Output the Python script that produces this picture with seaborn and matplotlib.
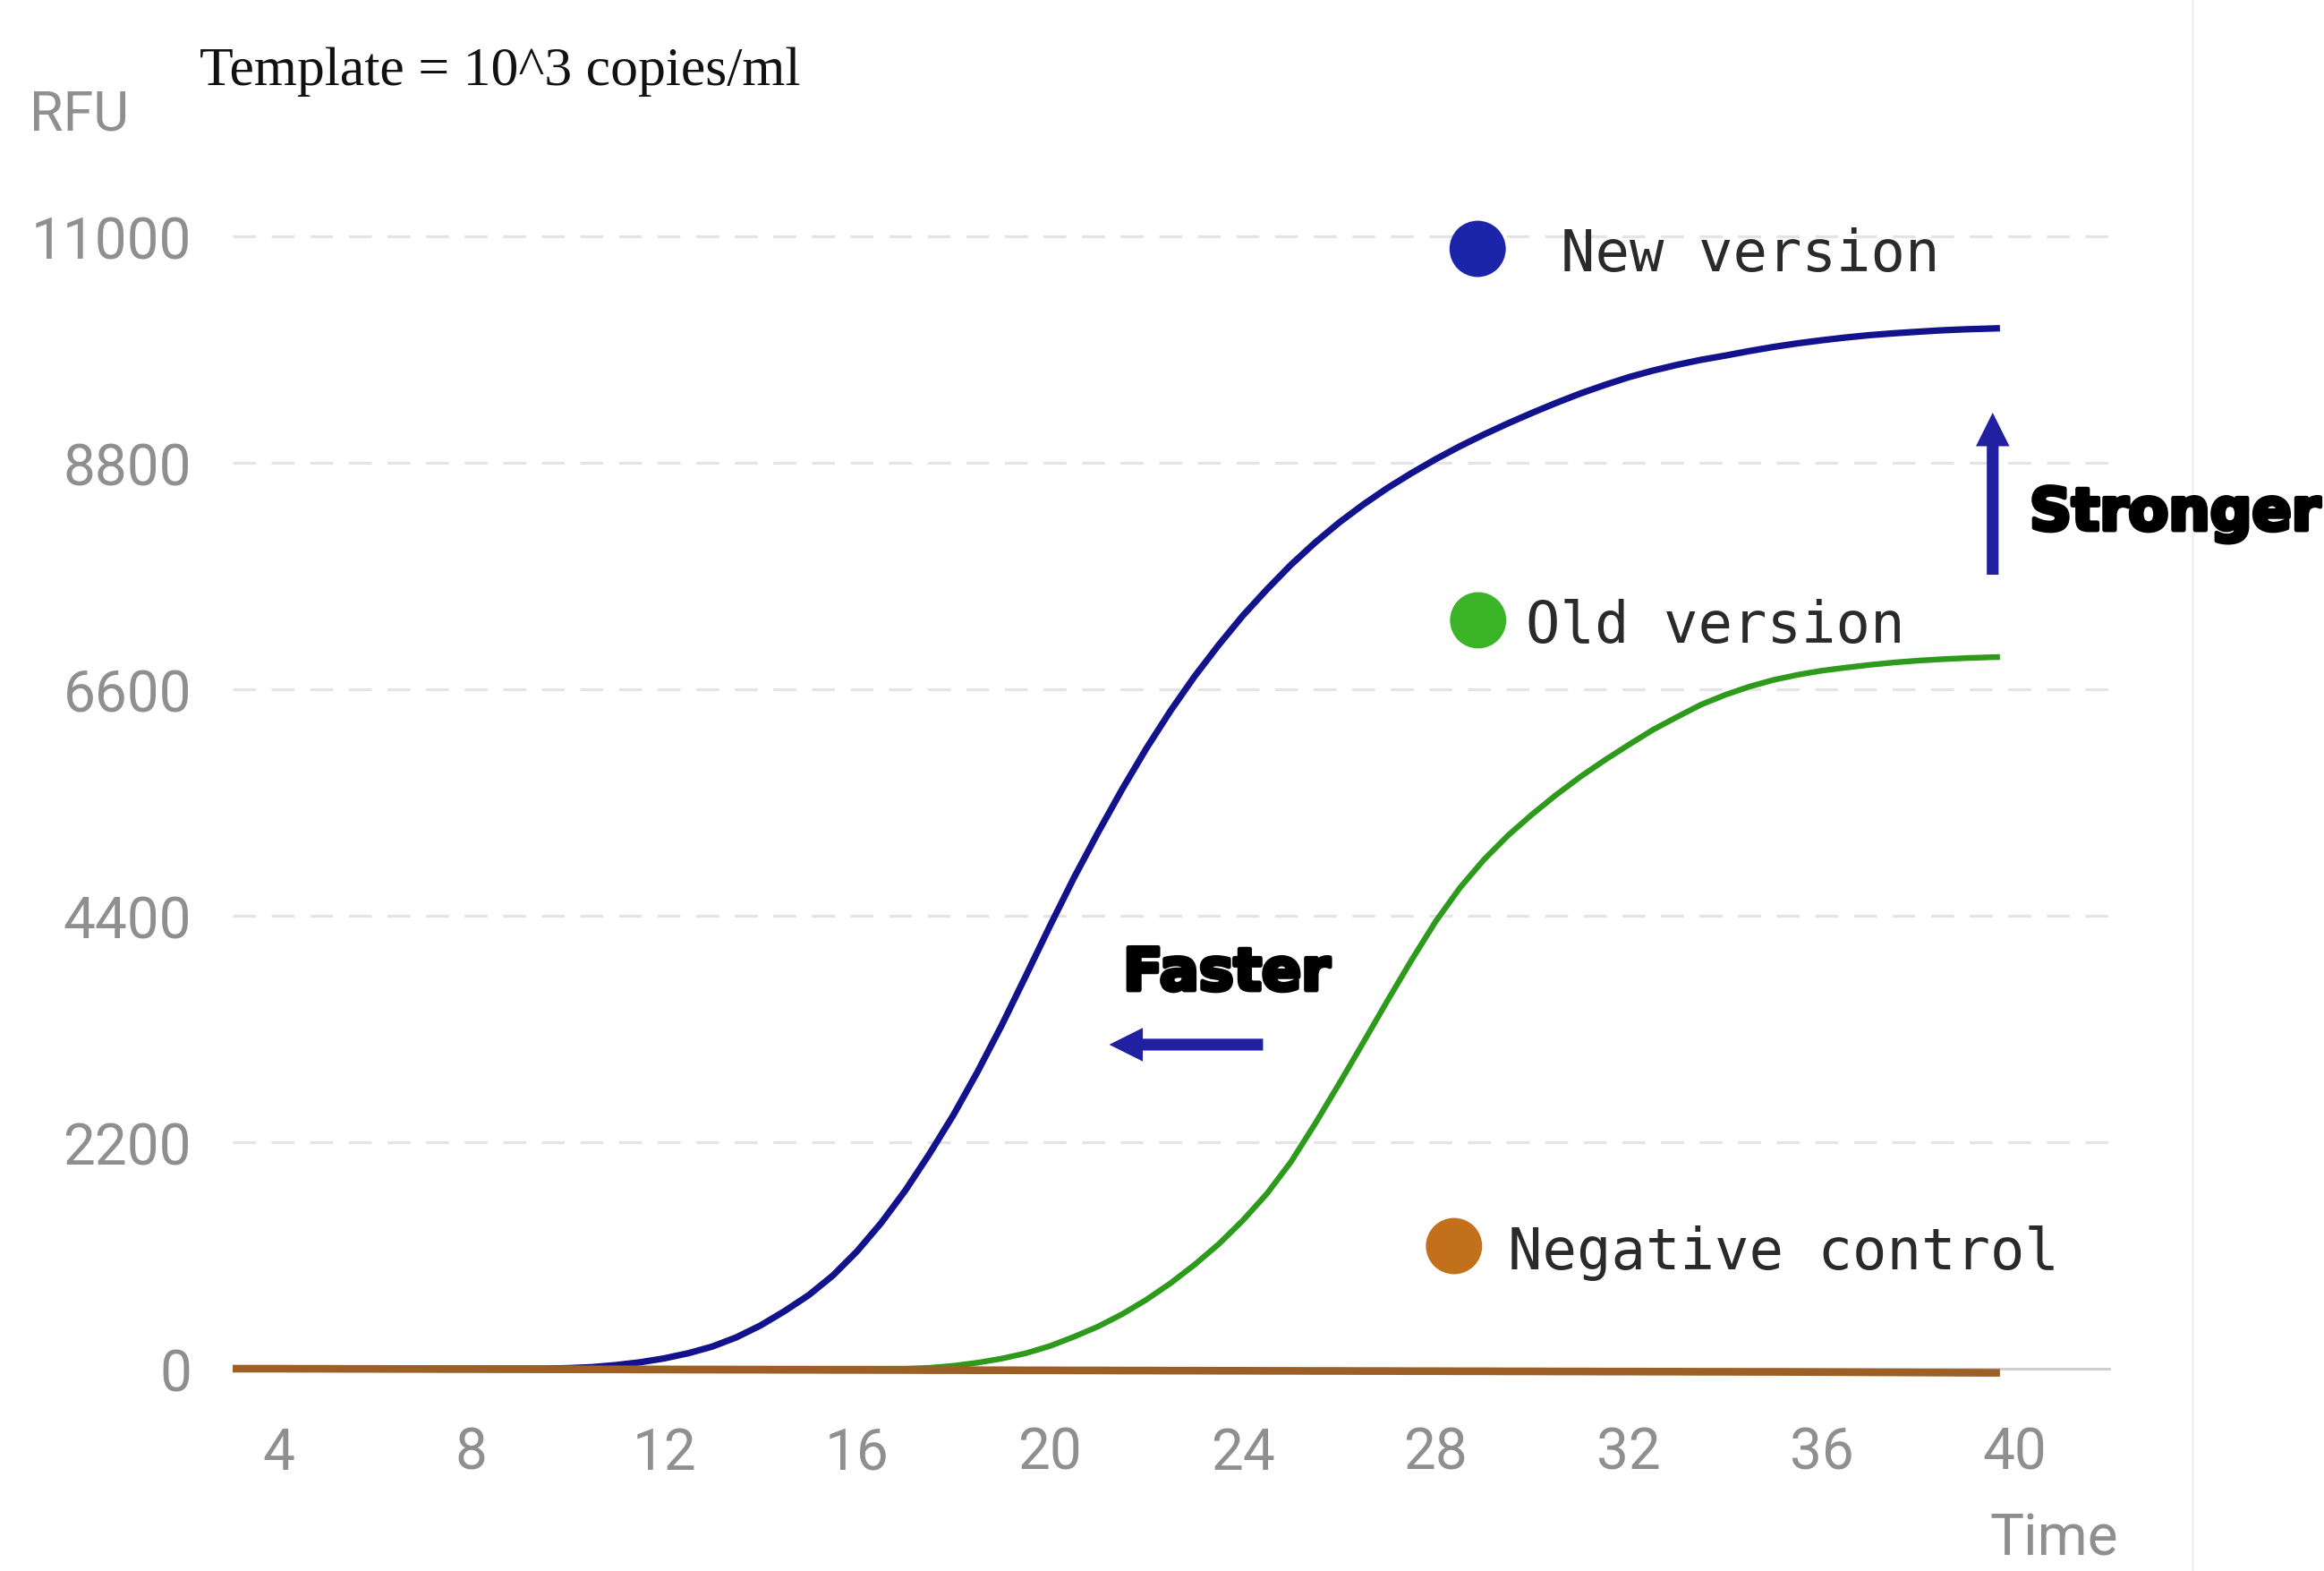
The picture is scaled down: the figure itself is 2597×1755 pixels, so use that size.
import numpy as np
import pandas as pd
import matplotlib
matplotlib.use("Agg")
import matplotlib.pyplot as plt
import matplotlib.patheffects as pe
import seaborn as sns

# ---------------- data ----------------
time = [3, 3.5, 4, 4.5, 5, 5.5, 6, 6.5, 7, 7.5, 8, 8.5, 9, 9.5,
        10, 10.5, 11, 11.5, 12, 12.5, 13, 13.5, 14, 14.5, 15, 15.5, 16, 16.5,
        17, 17.5, 18, 18.5, 19, 19.5, 20, 20.5, 21, 21.5, 22, 22.5, 23, 23.5,
        24, 24.5, 25, 25.5, 26, 26.5, 27, 27.5, 28, 28.5, 29, 29.5, 30, 30.5,
        31, 31.5, 32, 32.5, 33, 33.5, 34, 34.5, 35, 35.5, 36, 36.5, 37, 37.5,
        38, 38.5, 39, 39.5, 39.7]
new_version = [0, 0, 0, 0, 0, 0, 0, 0, 0, 0, 0, 0, 0, 0,
               5, 15, 35, 62, 100, 150, 215, 305, 420, 560, 715, 905, 1140, 1415,
               1730, 2085, 2465, 2885, 3335, 3815, 4300, 4770, 5210, 5630, 6025,
               6390, 6725, 7030, 7315, 7570, 7810, 8025, 8220, 8395, 8555, 8700,
               8835, 8960, 9075, 9183, 9285, 9382, 9473, 9555, 9631, 9695, 9751,
               9800, 9841, 9885, 9925, 9960, 9990, 10017, 10040, 10058, 10073,
               10087, 10097, 10104, 10107]
old_version = [0, 0, 0, 0, 0, 0, 0, 0, 0, 0, 0, 0, 0, 0,
               0, 0, 0, 0, 0, 0, 0, 0, 0, 0, 0, 0, 0, 0, 0,
               8, 28, 58, 98, 150, 220, 310, 410, 530, 670, 830, 1010, 1210,
               1440, 1700, 2010, 2380, 2770, 3170, 3575, 3970, 4345, 4670, 4945,
               5180, 5385, 5575, 5750, 5910, 6060, 6205, 6330, 6450, 6545, 6625,
               6690, 6740, 6780, 6810, 6837, 6860, 6878, 6892, 6903, 6911, 6913]
negative_control = [0, 0, 0, -1, -1, -2, -2, -3, -3, -4, -4, -5, -5, -6, -6, -7,
                    -7, -8, -8, -9, -9, -10, -10, -11, -11, -12, -12, -13, -13,
                    -14, -14, -15, -15, -16, -16, -17, -17, -18, -18, -19, -19,
                    -20, -20, -21, -21, -22, -22, -23, -23, -24, -24, -25, -25,
                    -26, -26, -27, -27, -28, -28, -29, -29, -30, -30, -31, -31,
                    -32, -33, -34, -35, -36, -37, -38, -39, -40, -40]

x_ticks = [4, 8, 12, 16, 20, 24, 28, 32, 36, 40]
y_ticks = [0, 2200, 4400, 6600, 8800, 11000]
y_tick_labels = ["0", "2200", "4400", "6600", "8800", "11000"]

series_names = ["New version", "Old version", "Negative control"]
line_colors = ["#12128c", "#2e9a1c", "#9c5f26"]
dot_colors = ["#1c24aa", "#3bb527", "#c2701c"]

# legend-like dots and labels placed inside the plot (data coords)
dot_x = [28.87, 28.88, 28.38]
dot_y = [10878, 7270, 1191]
label_x = [30.59, 29.87, 29.50]
label_y = [10670, 7061, 974]

# annotations
faster_arrow = dict(tail=(24.42, 3148), head=(21.23, 3148))
stronger_arrow = dict(tail=(39.55, 7713), head=(39.55, 9287))

# ---------------- figure ----------------
sns.set_theme(style="white")
plt.rcParams["font.family"] = ["Roboto", "DejaVu Sans"]

W, H = 2597, 1756
fig = plt.figure(figsize=(W / 100, H / 100), dpi=100)
fig.patch.set_facecolor("white")
ax = fig.add_axes([0.10004, 0.10906, 0.80824, 0.77278])
ax.set_facecolor("white")

n = len(time)
df = pd.DataFrame({
    "time": time * 3,
    "rfu": new_version + old_version + negative_control,
    "series": [series_names[0]] * n + [series_names[1]] * n + [series_names[2]] * n,
})

# grid (dashed) and baseline
for yv in y_ticks[1:]:
    ax.axhline(yv, color="#e4e4e4", lw=2.3, ls=(0, (8, 5.5)), zorder=0)
ax.axhline(0, color="#cfcfcf", lw=2.2, zorder=0.5)

widths = [5.2, 4.6, 6.2]
for name, col, lw, z in zip(series_names, line_colors, widths, [3, 3, 4]):
    sns.lineplot(data=df[df["series"] == name], x="time", y="rfu", color=col,
                 lw=lw, estimator=None, legend=False, ax=ax, zorder=z,
                 solid_capstyle="butt", solid_joinstyle="round")

dots = pd.DataFrame({"x": dot_x, "y": dot_y, "series": series_names})
sns.scatterplot(data=dots, x="x", y="y", hue="series", palette=dot_colors,
                s=2050, edgecolor="none", legend=False, ax=ax, zorder=6)

for name, lx, ly in zip(series_names, label_x, label_y):
    ax.text(lx, ly, name, fontsize=46, family=["DejaVu Sans Mono"],
            color="#2a2a2a", ha="left", va="baseline", zorder=7)

ax.set_xlim(3.05, 42.0)
ax.set_ylim(-300, 11500)
ax.set_xticks(x_ticks)
ax.set_yticks(y_ticks)
ax.set_yticklabels(y_tick_labels)
ax.set_xlabel("")
ax.set_ylabel("")
ax.tick_params(axis="both", length=0, labelsize=46, labelcolor="#8f8f8f")
ax.tick_params(axis="y", pad=33)
ax.tick_params(axis="x", pad=20.5)
for sp in ax.spines.values():
    sp.set_visible(False)
ax.grid(False)

arrow_color = "#2020a0"
for arr in (faster_arrow, stronger_arrow):
    ax.annotate("", xy=arr["head"], xytext=arr["tail"],
                arrowprops=dict(arrowstyle="simple,head_length=2.7,head_width=2.7,tail_width=0.95",
                                mutation_scale=10, color=arrow_color, lw=0,
                                shrinkA=0, shrinkB=0), zorder=6)

heavy = [pe.withStroke(linewidth=3.5, foreground="black")]
fig.text(1255 / W, 1 - 1107 / H, "Faster", fontsize=47, fontweight="bold",
         family=["DejaVu Sans"], color="black", ha="left", va="baseline",
         path_effects=heavy)
fig.text(2268 / W, 1 - 593 / H, "Stronger", fontsize=47, fontweight="bold",
         family=["DejaVu Sans"], color="black", ha="left", va="baseline",
         path_effects=heavy)

fig.text(223 / W, 1 - 95 / H, "Template = 10^3 copies/ml", fontsize=44.5,
         family=["Liberation Serif", "DejaVu Serif"], color="#111111",
         ha="left", va="baseline")
fig.text(33 / W, 1 - 145 / H, "RFU", fontsize=44, color="#8f8f8f",
         ha="left", va="baseline")
fig.text(2367 / W, 1 - 1738 / H, "Time", fontsize=46, color="#8f8f8f",
         ha="right", va="baseline")

# faint screenshot border on the right
fig.add_artist(plt.Line2D([2450 / W, 2450 / W], [0, 1], color="#f1f1f1", lw=2,
                          transform=fig.transFigure))

fig.savefig("out.png", dpi=100, facecolor="white")
